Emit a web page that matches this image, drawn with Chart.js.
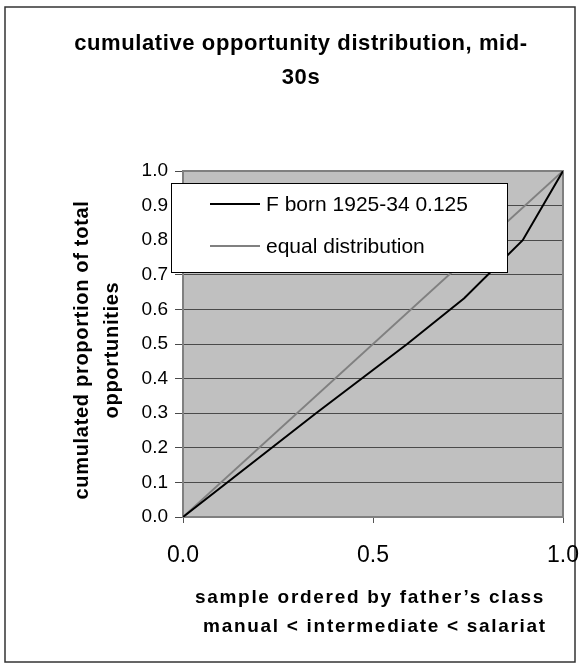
<!DOCTYPE html>
<html>
<head>
<meta charset="utf-8">
<script src="https://cdn.jsdelivr.net/npm/chart.js@4"></script>
<style>
  html, body { margin: 0; padding: 0; background: #fff; }
  canvas { display: block; }
</style>
</head>
<body>
<canvas id="lorenz" width="580" height="669"></canvas>
<script>
// data
const cohortX = [0, 0.35, 0.59, 0.74, 0.894, 1];
const cohortY = [0, 0.30, 0.50, 0.632, 0.80, 1];
const equalX = [0, 1];
const equalY = [0, 1];
const seriesLabels = ["F born 1925-34 0.125", "equal distribution"];
const titleLines = ["cumulative opportunity distribution, mid-", "30s"];
const yTitleLines = ["cumulated proportion of total", "opportunities"];
const xTitleLines = ["sample ordered by father\u2019s class", "manual < intermediate < salariat"];

const FONT = "Arial, 'Liberation Sans', sans-serif";
const toPts = (xs, ys) => xs.map((x, i) => ({ x: x, y: ys[i] }));

/* background, frame, titles and the floating legend */
const decor = {
  id: "decor",
  beforeDraw(chart) {
    const { ctx, chartArea: a } = chart;
    ctx.save();
    ctx.fillStyle = "#fff";
    ctx.fillRect(0, 0, chart.width, chart.height);
    ctx.strokeStyle = "#333";
    ctx.lineWidth = 1.5;
    ctx.strokeRect(5, 7, 570, 655);
    ctx.fillStyle = "#c0c0c0";
    ctx.fillRect(a.left, a.top, a.right - a.left, a.bottom - a.top);
    ctx.restore();
  },
  beforeDatasetsDraw(chart) {
    const { ctx, chartArea: a } = chart;
    ctx.save();
    ctx.strokeStyle = "#808080";
    ctx.lineWidth = 2;
    ctx.strokeRect(a.left, a.top, a.right - a.left, a.bottom - a.top);
    ctx.restore();
  },
  afterDraw(chart) {
    const { ctx } = chart;
    ctx.save();
    ctx.fillStyle = "#000";
    ctx.textAlign = "center";
    ctx.textBaseline = "middle";

    // title
    ctx.font = "bold 22px " + FONT;
    ctx.letterSpacing = "0.6px";
    ctx.fillText(titleLines[0], 301, 44);
    ctx.fillText(titleLines[1], 301, 78);

    // y axis title
    ctx.save();
    ctx.translate(82, 350);
    ctx.rotate(-Math.PI / 2);
    ctx.font = "bold 20px " + FONT;
    ctx.letterSpacing = "0.7px";
    ctx.fillText(yTitleLines[0], 0, 0);
    ctx.fillText(yTitleLines[1], 0, 30);
    ctx.restore();

    // x axis title
    ctx.font = "bold 19px " + FONT;
    ctx.letterSpacing = "1.7px";
    ctx.fillText(xTitleLines[0], 370, 598);
    ctx.fillText(xTitleLines[1], 375, 627);
    ctx.letterSpacing = "0px";

    // legend box over the plot
    ctx.fillStyle = "#fff";
    ctx.fillRect(171, 183, 336, 89);
    ctx.strokeStyle = "#000";
    ctx.lineWidth = 1;
    ctx.strokeRect(171.5, 183.5, 336, 89);
    const rows = [204, 246];
    chart.data.datasets.forEach((ds, i) => {
      ctx.strokeStyle = ds.borderColor;
      ctx.lineWidth = ds.borderWidth;
      ctx.beginPath();
      ctx.moveTo(210, rows[i]);
      ctx.lineTo(260, rows[i]);
      ctx.stroke();
      ctx.fillStyle = "#000";
      ctx.textAlign = "left";
      ctx.font = "21px " + FONT;
      ctx.fillText(ds.label, 266, rows[i] + 1);
    });
    ctx.restore();
  }
};

new Chart(document.getElementById("lorenz"), {
  type: "scatter",
  data: {
    datasets: [
      { label: seriesLabels[0], data: toPts(cohortX, cohortY), showLine: true,
        borderColor: "#000", borderWidth: 2, pointRadius: 0, tension: 0 },
      { label: seriesLabels[1], data: toPts(equalX, equalY), showLine: true,
        borderColor: "#808080", borderWidth: 2, pointRadius: 0, tension: 0 },
    ],
  },
  options: {
    responsive: false,
    animation: false,
    devicePixelRatio: 1,
    layout: { padding: { left: 133, right: 17, top: 171, bottom: 92 } },
    plugins: { legend: { display: false }, title: { display: false }, tooltip: { enabled: false } },
    scales: {
      x: {
        type: "linear", min: 0, max: 1,
        ticks: { stepSize: 0.5, padding: 19, color: "#000", font: { family: FONT, size: 23 },
                 callback: v => v.toFixed(1) },
        grid: { drawOnChartArea: false, drawTicks: true, tickLength: 6, color: "#555" },
        border: { color: "#808080", width: 2 },
        afterFit: s => { s.height = 60; s.paddingLeft = 0; s.paddingRight = 0; },
      },
      y: {
        type: "linear", min: 0, max: 1,
        ticks: { stepSize: 0.1, padding: 7, color: "#000", font: { family: FONT, size: 19 },
                 callback: v => v.toFixed(1) },
        grid: { color: "#4a4a4a", lineWidth: 1, tickLength: 8 },
        border: { color: "#808080", width: 2 },
        afterFit: s => { s.width = 50; s.paddingTop = 0; s.paddingBottom = 0; },
      },
    },
  },
  plugins: [decor],
});
</script>
</body>
</html>
